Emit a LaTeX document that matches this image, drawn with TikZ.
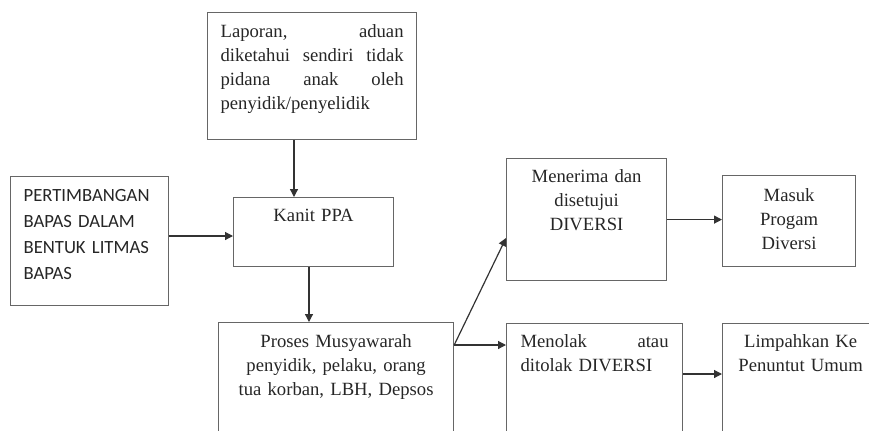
\documentclass[tikz,border=0pt]{standalone}
\usepackage{fontspec}
\setmainfont{Liberation Serif}
\newfontfamily\calibri{Carlito}
\usetikzlibrary{arrows.meta}

\begin{document}
\begin{tikzpicture}[x=0.75pt, y=-0.75pt,
    box/.style={draw=black!60, line width=0.9pt, anchor=north west, inner xsep=9.75pt, inner ysep=0pt,
      font=\fontsize{14}{18}\selectfont, text=black!85},
    arr/.style={draw=black!80, line width=0.9pt, -{Triangle[length=6pt,width=6pt]}}]
    \useasboundingbox (0,0) rectangle (869,430);
    \clip (0,0) rectangle (869,430);
    \node[box, align=left, text width=137.25pt, text height=18.75pt, text depth=76.5pt] (a) at (207,12)
      {Laporan,\hfill aduan\\ diketahui\hfill sendiri\hfill tidak\\ pidana\hfill anak\hfill oleh\\ penyidik/penyelidik};
    \node[box, align=left, text width=99pt, text height=18.75pt, text depth=78pt,
      font=\calibri\fontsize{14}{19.5}\selectfont] (b) at (10,176)
      {PERTIMBANGAN\\ BAPAS DALAM\\ BENTUK LITMAS\\ BAPAS};
    \node[box, align=center, text width=100.5pt, text height=18pt, text depth=33.75pt] (c) at (233,197) {Kanit PPA};
    \node[box, align=center, text width=156.75pt, text height=18.75pt, text depth=71.25pt] (d) at (218,322)
      {Proses Musyawarah\\ penyidik, pelaku, orang\\ tua korban, LBH, Depsos};
    \node[box, align=center, text width=100.5pt, text height=18pt, text depth=73.5pt] (e) at (506,158)
      {Menerima dan\\ disetujui\\ DIVERSI};
    \node[box, align=center, text width=80.25pt, text height=19.5pt, text depth=48.75pt] (f) at (722,175)
      {Masuk\\ Progam\\ Diversi};
    \node[box, align=left, inner xsep=10.5pt, text width=111pt, text height=18pt, text depth=71.25pt] (g) at (506,323)
      {Menolak\hfill atau\\ ditolak DIVERSI};
    \node[box, align=center, text width=97.5pt, text height=18pt, text depth=71.25pt] (h) at (722,323)
      {Limpahkan Ke\\ Penuntut Umum};
    \coordinate (k) at (d.east |- 0,345);
    \draw[arr] (a.south -| 294,0) -- (c.north -| 294,0);
    \draw[arr] (b.east |- 0,236) -- (c.west |- 0,236);
    \draw[arr] (c.south -| 309,0) -- (d.north -| 309,0);
    \draw[arr] (k) -- (e.west |- 0,238);
    \draw[arr] (k) -- (g.west |- k);
    \draw[arr] (e.east) -- (f.west |- e.east);
    \draw[arr] (g.east |- 0,374) -- (h.west |- 0,374);
\end{tikzpicture}
\end{document}
